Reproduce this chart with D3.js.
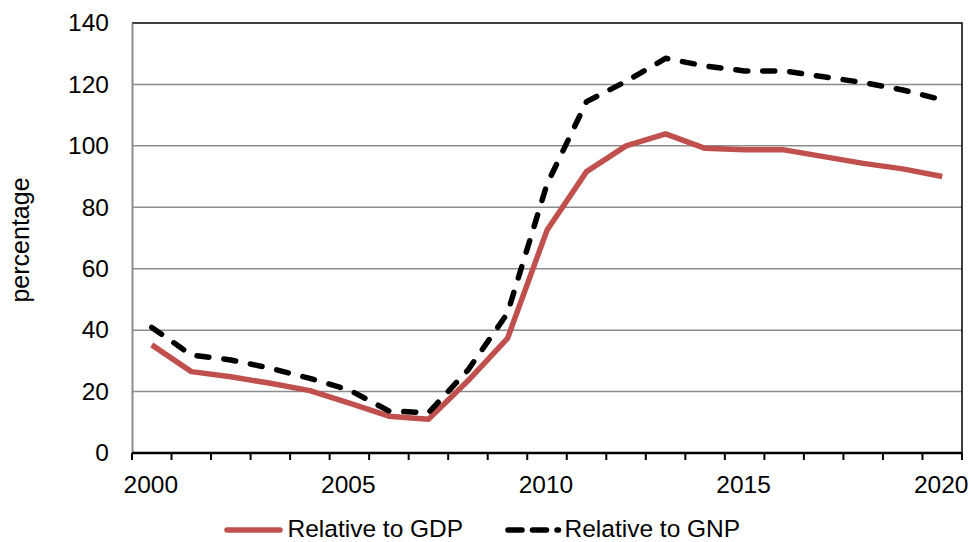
<!DOCTYPE html>
<html>
<head>
<meta charset="utf-8">
<script src="https://cdn.jsdelivr.net/npm/d3@7"></script>
<style>
  html, body { margin: 0; padding: 0; background: #fff; }
  svg { display: block; font-family: "Liberation Sans", Arial, sans-serif; }
</style>
</head>
<body>
<svg id="chart" width="971" height="542"></svg>
<script>
// Debt ratio series, 2000–2020
const years = [2000, 2001, 2002, 2003, 2004, 2005, 2006, 2007, 2008, 2009, 2010,
               2011, 2012, 2013, 2014, 2015, 2016, 2017, 2018, 2019, 2020];
const gdpValues = [35.2, 26.5, 24.8, 22.7, 20.3, 16.2, 12.0, 11.0, 23.5, 37.3, 72.5,
                   91.6, 100.0, 103.9, 99.2, 98.7, 98.7, 96.5, 94.3, 92.5, 90.0];
const gnpValues = [40.9, 31.9, 30.3, 27.6, 24.3, 20.5, 13.7, 13.1, 27.0, 45.5, 87.5,
                   114.4, 121.0, 128.5, 126.0, 124.4, 124.4, 122.5, 120.6, 118.2, 115.0];
const yTicks = [0, 20, 40, 60, 80, 100, 120, 140];
const xLabels = [2000, 2005, 2010, 2015, 2020];
const seriesNames = ["Relative to GDP", "Relative to GNP"];

const svg = d3.select("#chart");
const plotLeft = 132, plotRight = 962, plotTop = 23, plotBottom = 453;
const axisFont = 24.5;

const x = d3.scaleBand().domain(years).range([plotLeft, plotRight]).paddingInner(0).paddingOuter(0);
const xc = d => x(d) + x.bandwidth() / 2;
const y = d3.scaleLinear().domain([0, 140]).range([plotBottom, plotTop]);

// Horizontal gridlines
svg.append("g")
  .selectAll("line")
  .data(yTicks.filter(t => t > 0 && t < 140))
  .join("line")
  .attr("x1", plotLeft).attr("x2", plotRight)
  .attr("y1", d => y(d)).attr("y2", d => y(d))
  .attr("stroke", "#8c8c8c").attr("stroke-width", 1.5);

// Plot-area frame (top and right)
svg.append("path")
  .attr("d", `M${plotLeft},${y(140)}H${plotRight}V${plotBottom}`)
  .attr("fill", "none").attr("stroke", "#000").attr("stroke-width", 1.5);

// Left value axis
const yAxis = svg.append("g")
  .attr("transform", `translate(${plotLeft},0)`)
  .call(d3.axisLeft(y).tickValues(yTicks).tickSize(0).tickPadding(23));
yAxis.select(".domain").attr("stroke", "#8c8c8c").attr("stroke-width", 2);
yAxis.selectAll("text").attr("font-size", axisFont).attr("fill", "#000")
  .attr("font-family", "Liberation Sans, Arial, sans-serif");

// Bottom category axis with ticks between categories
const tickPositions = years.map(d => x(d)).concat([plotRight]);
svg.append("g")
  .selectAll("line")
  .data(tickPositions)
  .join("line")
  .attr("x1", d => d).attr("x2", d => d)
  .attr("y1", plotBottom).attr("y2", plotBottom + 7)
  .attr("stroke", "#000").attr("stroke-width", 2);
svg.append("line")
  .attr("x1", plotLeft).attr("x2", plotRight)
  .attr("y1", plotBottom).attr("y2", plotBottom)
  .attr("stroke", "#000").attr("stroke-width", 2.5);
svg.append("g")
  .selectAll("text")
  .data(xLabels)
  .join("text")
  .attr("x", d => xc(d) - 1)
  .attr("y", 493)
  .attr("text-anchor", "middle")
  .attr("font-size", axisFont)
  .text(d => d);

// Axis title
svg.append("text")
  .attr("transform", "translate(29,240) rotate(-90)")
  .attr("text-anchor", "middle")
  .attr("font-size", 25)
  .text("percentage");

// Series lines
const line = d3.line().x((d, i) => xc(years[i])).y(d => y(d));
svg.append("path")
  .datum(gdpValues)
  .attr("d", line)
  .attr("fill", "none")
  .attr("stroke", "#C0504D")
  .attr("stroke-width", 5.5)
  .attr("stroke-linejoin", "round");
svg.append("path")
  .datum(gnpValues)
  .attr("d", line)
  .attr("fill", "none")
  .attr("stroke", "#000")
  .attr("stroke-width", 5.5)
  .attr("stroke-linecap", "round")
  .attr("stroke-linejoin", "round")
  .attr("stroke-dasharray", "12,15");

// Legend
const legend = svg.append("g");
legend.append("line")
  .attr("x1", 227).attr("x2", 280).attr("y1", 530).attr("y2", 530)
  .attr("stroke", "#C0504D").attr("stroke-width", 5.5).attr("stroke-linecap", "round");
legend.append("text")
  .attr("x", 287.5).attr("y", 537).attr("font-size", axisFont)
  .text(seriesNames[0]);
legend.append("line")
  .attr("x1", 508).attr("x2", 558.5).attr("y1", 530).attr("y2", 530)
  .attr("stroke", "#000").attr("stroke-width", 5.5).attr("stroke-linecap", "round")
  .attr("stroke-dasharray", "14,10.5");
legend.append("text")
  .attr("x", 564.5).attr("y", 537).attr("font-size", axisFont)
  .text(seriesNames[1]);
</script>
</body>
</html>
